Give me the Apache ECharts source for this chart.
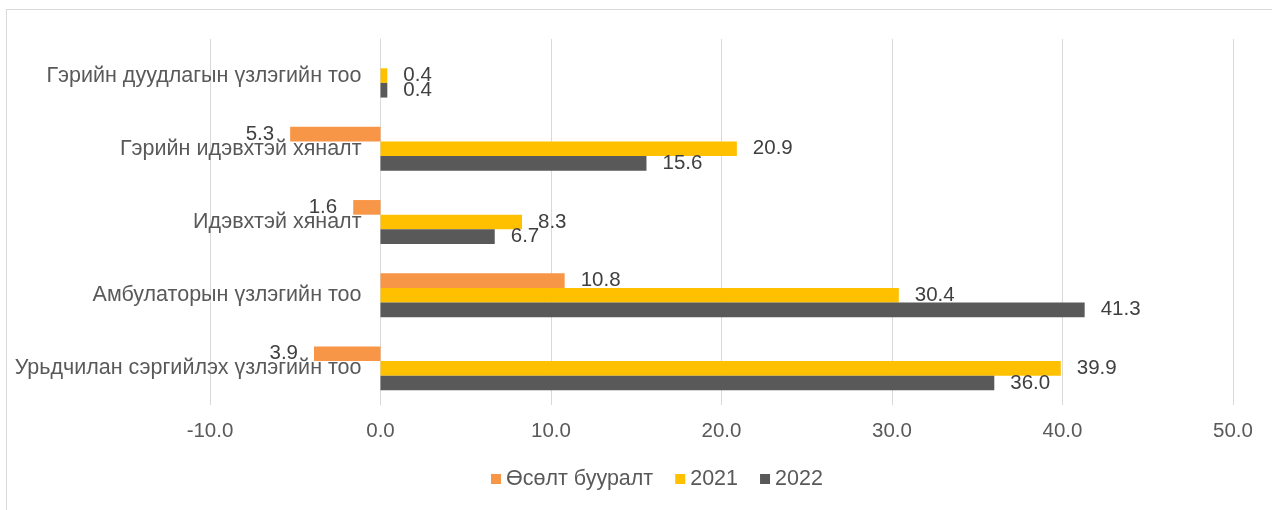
<!DOCTYPE html>
<html>
<head>
<meta charset="utf-8">
<script src="https://cdn.jsdelivr.net/npm/echarts@6/dist/echarts.min.js"></script>
<style>
  html, body { margin: 0; padding: 0; background: #fff; }
  #frame { position: absolute; left: 6px; top: 9px; width: 1266px; height: 501px;
           border-left: 1px solid #d9d9d9; border-top: 1px solid #d9d9d9; }
  #container { position: absolute; left: 0; top: 0; width: 1272px; height: 510px; }
</style>
</head>
<body>
<div id="frame"></div>
<div id="container"></div>
<script>
// categories bottom -> top (category axis starts at the bottom)
var categories = [
    'Урьдчилан сэргийлэх үзлэгийн тоо',
    'Амбулаторын үзлэгийн тоо',
    'Идэвхтэй хяналт',
    'Гэрийн идэвхтэй хяналт',
    'Гэрийн дуудлагын үзлэгийн тоо'
];
var growth = [-3.9, 10.8, -1.6, -5.3, null];
var y2021 = [39.9, 30.4, 8.3, 20.9, 0.4];
var y2022 = [36.0, 41.3, 6.7, 15.6, 0.4];
var xTicks = { min: -10, max: 50, step: 10 };

var font = 'Liberation Sans, Arial, sans-serif';
var gridLeft = 210, gridRight = 39;

function withLabels(arr) {
    return arr.map(function (v) {
        if (v === null) return null;
        return {
            value: v,
            label: { position: v < 0 ? 'left' : 'right' }
        };
    });
}

function makeSeries(name, arr, color) {
    return {
        name: name,
        type: 'bar',
        barGap: '0%',
        barCategoryGap: '40%',
        itemStyle: { color: color },
        label: {
            show: true,
            distance: 16,
            color: '#404040',
            fontSize: 20.5,
            fontFamily: font,
            formatter: function (p) { return Math.abs(p.value).toFixed(1); }
        },
        data: withLabels(arr)
    };
}

// move the category axis onto the 0 line (labels follow it)
var plotW = 1272 - gridLeft - gridRight;
var zeroOffset = plotW * (0 - xTicks.min) / (xTicks.max - xTicks.min);

var charts = echarts.init(document.getElementById('container'));
var option = {
    animation: false,
    textStyle: { fontFamily: font },
    grid: { left: gridLeft, right: gridRight, top: 39, bottom: 105, containLabel: false, outerBoundsMode: 'none' },
    legend: {
        bottom: 15,
        left: 486,
        itemWidth: 10,
        itemHeight: 10,
        itemGap: 22,
        icon: 'rect',
        textStyle: { color: '#595959', fontSize: 21.5, fontFamily: font },
        data: ['Өсөлт бууралт', '2021', '2022']
    },
    xAxis: {
        type: 'value',
        min: xTicks.min,
        max: xTicks.max,
        interval: xTicks.step,
        axisLine: { show: false },
        axisTick: { show: false },
        splitLine: { lineStyle: { color: '#d9d9d9', width: 1 } },
        axisLabel: {
            color: '#595959',
            fontSize: 20.5,
            margin: 16,
            fontFamily: font,
            formatter: function (v) { return v.toFixed(1); }
        }
    },
    yAxis: {
        type: 'category',
        data: categories,
        offset: -zeroOffset,
        axisLine: { show: true, onZero: false, lineStyle: { color: '#d9d9d9' } },
        axisTick: { show: false },
        axisLabel: { color: '#595959', fontSize: 21.5, margin: 19, fontFamily: font }
    },
    series: [
        makeSeries('Өсөлт бууралт', growth, '#F79646'),
        makeSeries('2021', y2021, '#FFC000'),
        makeSeries('2022', y2022, '#595959')
    ]
};
charts.setOption(option);
</script>
</body>
</html>
